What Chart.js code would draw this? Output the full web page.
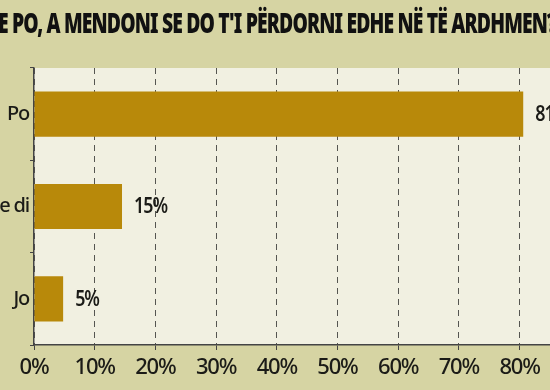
<!DOCTYPE html>
<html>
<head>
<meta charset="utf-8">
<script src="https://cdn.jsdelivr.net/npm/chart.js@4.4.0/dist/chart.umd.min.js"></script>
<style>
  html, body { margin: 0; padding: 0; width: 550px; height: 390px; overflow: hidden; background: #d6d4a3; }
  #wrap { position: absolute; left: -100px; top: 0; width: 750px; height: 390px; }
</style>
</head>
<body>
<div id="wrap"><canvas id="c" width="750" height="390"></canvas></div>
<script>
const titleText = "E PO, A MENDONI SE DO T'I PËRDORNI EDHE NË TË ARDHMEN?";
const categories = ["Po", "Nuk e di", "Jo"];
const values = [80.6, 14.5, 4.8];
const valueLabels = ["81%", "15%", "5%"];
const xTicks = [0, 10, 20, 30, 40, 50, 60, 70, 80];

const FONT = "'Noto Sans', 'DejaVu Sans', sans-serif";
const INK = '#1b1b17';

const plotBg = {
  id: 'plotBg',
  beforeDraw(chart) {
    const { ctx, chartArea: a } = chart;
    ctx.letterSpacing = '-1.2px';
    ctx.save();
    ctx.fillStyle = '#f1f0e1';
    ctx.fillRect(a.left, a.top, a.right - a.left, a.bottom - a.top);
    ctx.restore();
  }
};

const valueLabelPlugin = {
  id: 'valueLabels',
  afterDatasetsDraw(chart) {
    const { ctx } = chart;
    const meta = chart.getDatasetMeta(0);
    ctx.save();
    ctx.font = '600 21px ' + FONT;
    ctx.fillStyle = INK;
    ctx.textAlign = 'left';
    ctx.textBaseline = 'middle';
    meta.data.forEach((bar, i) => {
      const w = ctx.measureText(valueLabels[i]).width;
      ctx.fillText(valueLabels[i], bar.x + 12, bar.y + 1, w * 0.85);
    });
    ctx.restore();
  }
};

new Chart(document.getElementById('c'), {
  type: 'bar',
  data: {
    labels: categories,
    datasets: [{
      data: values,
      backgroundColor: '#b8890a',
      borderWidth: 0,
      barPercentage: 0.49,
      categoryPercentage: 1
    }]
  },
  options: {
    indexAxis: 'y',
    responsive: false,
    animation: false,
    devicePixelRatio: 1,
    layout: { padding: { left: 98, right: 94, top: 0, bottom: 0 } },
    plugins: {
      legend: { display: false },
      tooltip: { enabled: false },
      title: {
        display: true,
        text: titleText,
        color: '#111',
        font: { family: FONT, size: 28, weight: '900', lineHeight: 1.2 },
        padding: { top: 7.8, bottom: 26.6 }
      }
    },
    scales: {
      x: {
        min: 0,
        max: 86,
        afterFit(scale) { scale.height = 45; },
        afterBuildTicks(scale) { scale.ticks = xTicks.map(v => ({ value: v })); },
        ticks: {
          color: INK,
          padding: 5,
          maxRotation: 0,
          font: { family: FONT, size: 22, weight: '500' },
          callback: v => v + '%'
        },
        grid: {
          color: '#555550',
          lineWidth: 1,
          tickLength: 5,
          tickBorderDash: [],
          tickColor: '#444'
        },
        border: { display: true, color: '#444', width: 1.5, dash: [6, 5] }
      },
      y: {
        afterFit(scale) { scale.width = 36; },
        ticks: {
          color: INK,
          padding: 1,
          font: { family: FONT, size: 20, weight: '500' }
        },
        grid: {
          drawOnChartArea: false,
          tickLength: 4,
          color: '#444'
        },
        border: { display: true, color: '#444', width: 1.5 }
      }
    }
  },
  plugins: [plotBg, valueLabelPlugin]
});
</script>
</body>
</html>
